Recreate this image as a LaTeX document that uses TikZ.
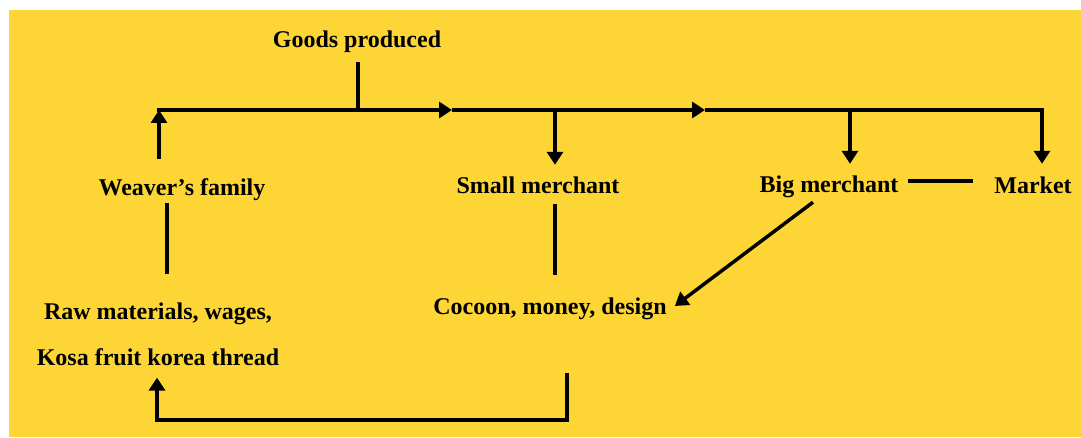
\documentclass[tikz,border=0pt]{standalone}
\usepackage{fontspec}
\setmainfont{Liberation Serif}
\usepackage{tikz}
\usetikzlibrary{positioning, arrows.meta}
\definecolor{chartyellow}{RGB}{253,214,54}
\tikzset{
    >={Triangle[length=13pt, width=16pt]}, % filled triangle heads
    flow/.style={line width=3.5pt}, % every connector line
    stage/.style={font=\fontsize{24}{28}\selectfont\bfseries, inner sep=0pt, text height=17pt, text depth=5pt}, % the text nodes
}
\begin{document}
\begin{tikzpicture}[x=1pt, y=-1pt]
    \useasboundingbox (0,0) rectangle (1081,438);
    \fill[white] (0,0) rectangle (1081,438);
    \fill[chartyellow] (9,10) rectangle (1081,437);

    \node[stage] (goods) at (357,42) {Goods produced};
    \node[stage] (wf) at (182,190) {Weaver’s family};
    \node[stage] (sm) at (538,188) {Small merchant};
    \node[stage] (bm) at (829,187) {Big merchant};
    \node[stage] (market) at (1033,188) {Market};
    \node[stage] (cocoon) at (550,308) {Cocoon, money, design};
    \node[stage] (raw) at (158,313) {Raw materials, wages,};
    \node[stage, below=24pt of raw] (kosa) {Kosa fruit korea thread};

    \coordinate (t0) at (159,110);
    \coordinate (t1) at (452,110);
    \coordinate (t2) at (705,110);
    \coordinate (t3) at (1042,110);
    \coordinate (d1) at (555,110);
    \coordinate (d2) at (850,110);
    \coordinate (loopstart) at (567,373);
    \coordinate (loopend) at (157,420);

    \draw[flow] ([xshift=1pt]goods.south) ++(0,9) -- ([xshift=1pt]goods.south |- t0);
    \draw[flow, ->] (t0 |- wf.north) ++(0,-20) -- (t0);
    \draw[flow, ->] ([xshift=-2pt]t0) -- (t1);
    \draw[flow, ->] (t1) -- (t2);
    \draw[flow, ->, shorten >=13pt] (t2) -- (t3) -- (t3 |- market.north);
    \draw[flow, ->, shorten >=12pt] (d1) -- (d1 |- sm.north);
    \draw[flow, ->, shorten >=12pt] (d2) -- (d2 |- bm.north);
    \draw[flow, shorten <=2pt, shorten >=28pt] ([xshift=-15pt]wf.south) -- ([xshift=-15pt]wf.south |- raw.north);
    \draw[flow, shorten <=5pt, shorten >=22pt] (d1 |- sm.south) -- (d1 |- cocoon.north);
    \draw[flow, shorten <=9pt, shorten >=21pt] ([yshift=6pt]bm.east) -- ([yshift=6pt]bm.east -| market.west);
    \draw[flow, ->] ([shift={(-16pt,-4pt)}]bm.south) -- ([shift={(8pt,2pt)}]cocoon.east);
    \draw[flow, ->, shorten >=7pt] (loopstart) |- (loopend) -- (loopend |- kosa.south);
\end{tikzpicture}
\end{document}
